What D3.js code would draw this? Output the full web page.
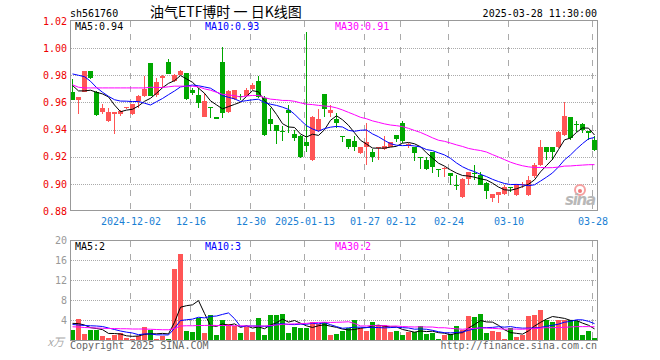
<!DOCTYPE html>
<html>
<head>
<meta charset="utf-8">
<script src="https://cdn.jsdelivr.net/npm/d3@7"></script>
<style>
  body { margin: 0; background: #fff; }
  text { font-family: "DejaVu Sans Mono", monospace; font-size: 10px; }
</style>
</head>
<body>
<div id="chart"></div>
<script>
// daily K-line of sh561760, 2024-11-18 .. 2025-03-28
var dates = [
  "2024-11-18","2024-11-19","2024-11-20","2024-11-21","2024-11-22","2024-11-25","2024-11-26","2024-11-27","2024-11-28","2024-11-29",
  "2024-12-02","2024-12-03","2024-12-04","2024-12-05","2024-12-06","2024-12-09","2024-12-10","2024-12-11","2024-12-12","2024-12-13",
  "2024-12-16","2024-12-17","2024-12-18","2024-12-19","2024-12-20","2024-12-23","2024-12-24","2024-12-25","2024-12-26","2024-12-27",
  "2024-12-30","2024-12-31","2025-01-02","2025-01-03","2025-01-06","2025-01-07","2025-01-08","2025-01-09","2025-01-10",
  "2025-01-13","2025-01-14","2025-01-15","2025-01-16","2025-01-17","2025-01-20","2025-01-21","2025-01-22","2025-01-23","2025-01-24",
  "2025-01-27","2025-02-05","2025-02-06","2025-02-07","2025-02-10","2025-02-11",
  "2025-02-12","2025-02-13","2025-02-14","2025-02-17","2025-02-18","2025-02-19","2025-02-20","2025-02-21",
  "2025-02-24","2025-02-25","2025-02-26","2025-02-27","2025-02-28","2025-03-03","2025-03-04","2025-03-05","2025-03-06","2025-03-07",
  "2025-03-10","2025-03-11","2025-03-12","2025-03-13","2025-03-14","2025-03-17","2025-03-18","2025-03-19","2025-03-20","2025-03-21",
  "2025-03-24","2025-03-25","2025-03-26","2025-03-27","2025-03-28"
];

var open = [
  0.9676,0.9620,0.9678,0.9829,0.9678,0.9532,0.9463,0.9512,0.9512,0.9560,
  0.9512,0.9610,0.9646,0.9888,0.9654,0.9780,0.9898,0.9761,0.9805,0.9815,
  0.9688,0.9654,0.9493,0.9563,0.9493,0.9895,0.9530,0.9627,0.9650,0.9651,
  0.9700,0.9761,0.9632,0.9476,0.9432,0.9392,0.9544,0.9366,0.9354,
  0.9312,0.9173,0.9390,0.9659,0.9520,0.9476,0.9350,0.9329,0.9315,0.9224,
  0.9273,0.9237,0.9265,0.9260,0.9273,0.9359,
  0.9445,0.9288,0.9268,0.9198,0.9173,0.9232,0.9106,0.9115,
  0.9080,0.8994,0.8902,0.9039,0.9081,0.9068,0.9007,0.8898,0.8915,0.8922,
  0.8978,0.8915,0.8998,0.8915,0.9056,0.9141,0.9271,0.9271,0.9271,0.9361,
  0.9490,0.9442,0.9439,0.9390,0.9324
];
var high = [
  0.9773,0.9639,0.9829,0.9829,0.9683,0.9590,0.9559,0.9529,0.9541,0.9570,
  0.9590,0.9658,0.9793,0.9888,0.9780,0.9805,0.9922,0.9810,0.9836,0.9817,
  0.9707,0.9707,0.9670,0.9565,0.9495,1.0012,0.9690,0.9693,0.9660,0.9705,
  0.9744,0.9798,0.9646,0.9561,0.9435,0.9427,0.9578,0.9400,0.9360,
  1.0122,0.9500,0.9549,0.9662,0.9578,0.9524,0.9354,0.9332,0.9354,0.9270,
  0.9446,0.9256,0.9268,0.9354,0.9305,0.9361,
  0.9460,0.9300,0.9270,0.9200,0.9198,0.9234,0.9108,0.9122,
  0.9082,0.9068,0.9040,0.9088,0.9141,0.9085,0.9010,0.8922,0.8941,0.8988,
  0.8980,0.9002,0.9010,0.9056,0.9154,0.9324,0.9273,0.9273,0.9393,0.9605,
  0.9492,0.9463,0.9446,0.9392,0.9349
];
var low = [
  0.9618,0.9512,0.9675,0.9770,0.9502,0.9512,0.9459,0.9371,0.9502,0.9555,
  0.9507,0.9560,0.9640,0.9646,0.9640,0.9707,0.9810,0.9751,0.9800,0.9620,
  0.9658,0.9560,0.9490,0.9488,0.9478,0.9488,0.9520,0.9620,0.9620,0.9648,
  0.9695,0.9630,0.9355,0.9390,0.9293,0.9317,0.9378,0.9317,0.9188,
  0.9232,0.9168,0.9380,0.9495,0.9495,0.9415,0.9305,0.9256,0.9244,0.9220,
  0.9141,0.9158,0.9173,0.9250,0.9268,0.9305,
  0.9300,0.9265,0.9168,0.9110,0.9105,0.9080,0.9050,0.9050,
  0.8995,0.8954,0.8898,0.8988,0.9032,0.8988,0.8885,0.8866,0.8861,0.8918,
  0.8939,0.8910,0.8970,0.8910,0.9044,0.9134,0.9178,0.9178,0.9266,0.9350,
  0.9324,0.9385,0.9378,0.9324,0.9239
];
var close = [
  0.9620,0.9639,0.9829,0.9780,0.9507,0.9559,0.9529,0.9529,0.9534,0.9566,
  0.9590,0.9651,0.9700,0.9646,0.9749,0.9795,0.9812,0.9800,0.9834,0.9627,
  0.9668,0.9598,0.9610,0.9556,0.9478,0.9520,0.9683,0.9690,0.9638,0.9690,
  0.9732,0.9641,0.9359,0.9439,0.9388,0.9390,0.9520,0.9341,0.9195,
  0.9280,0.9493,0.9476,0.9549,0.9544,0.9446,0.9346,0.9273,0.9273,0.9268,
  0.9305,0.9200,0.9268,0.9276,0.9305,0.9334,
  0.9315,0.9295,0.9228,0.9195,0.9110,0.9124,0.9105,0.9120,
  0.9056,0.8990,0.9037,0.9085,0.9078,0.8995,0.8946,0.8922,0.8941,0.8978,
  0.8976,0.9002,0.9002,0.9027,0.9141,0.9271,0.9234,0.9232,0.9385,0.9500,
  0.9337,0.9440,0.9398,0.9378,0.9246
];

// volume, in 10k
var volume = [
  2.0,4.2,1.2,2.0,2.1,0.87,0.4,1.1,1.5,0.33,
  0.3,0.8,2.7,2.1,0.27,0.73,0.27,14.3,17.2,1.8,
  1.6,4.5,1.47,5.0,1.07,4.0,3.2,2.9,1.47,2.67,
  1.67,4.4,1.07,5.07,5.07,5.2,1.47,2.67,2.4,
  2.4,3.6,3.2,3.6,1.0,1.27,1.87,2.33,4.0,2.33,
  1.87,3.6,3.0,3.0,1.6,1.87,
  1.07,1.67,1.6,2.8,1.27,1.47,0.2,1.07,
  1.2,2.8,2.07,4.8,4.6,5.2,1.4,1.87,1.6,0.2,
  2.33,0.67,1.07,4.87,5.0,6.0,4.0,3.6,4.0,4.0,
  4.0,3.87,1.0,1.87,0.4
];

// moving averages before enough days are on screen
var ma5Head = [0.9725,0.9685,0.9685,0.9690];
var ma10Head = [0.9810,0.9800,0.9790,0.9756,0.9710,0.9675,0.9645,0.9620,0.9610];
var ma30Head = [0.9730,0.9712,0.9707,0.9707,0.9707,0.9707,0.9707,0.9707,0.9707,0.9707,
                0.9707,0.9707,0.9707,0.9712,0.9710,0.9710,0.9715,0.9720,0.9720,0.9720,
                0.9720,0.9715,0.9700,0.9690,0.9675,0.9660,0.9655,0.9650,0.9640];
var volMa5Head = [3.33,3.27,3.0,2.47];
var volMa10Head = [3.1,3.0,2.9,2.85,2.8,2.7,2.4,2.1,1.8];
var volMa30Head = [2.65,2.6,2.5,2.45,2.4,2.35,2.3,2.3,2.25,2.25,
                   2.2,2.2,2.2,2.15,2.1,2.05,2.05,2.3,2.8,2.85,
                   2.85,2.9,2.9,2.95,2.9,2.9,2.9,2.85,2.85];

var priceTicks = [0.88,0.90,0.92,0.94,0.96,0.98,1.00,1.02];
var volTicks = [4,8,12,16,20];
var dateTicks = ["2024-12-02","2024-12-16","2024-12-30","2025-01-13","2025-01-27","2025-02-12","2025-02-24","2025-03-10","2025-03-28"];
var dateTickLabels = ["2024-12-02","12-16","12-30","2025-01-13","01-27","02-12","02-24","03-10","03-28"];

var upColor = "#ff5555", downColor = "#00a800";

function movingAvg(values, n, head) {
  return values.map(function(v, i) {
    if (i < n - 1) return head[i];
    return d3.mean(values.slice(i - n + 1, i + 1));
  });
}

var ma5 = movingAvg(close, 5, ma5Head),
    ma10 = movingAvg(close, 10, ma10Head),
    ma30 = movingAvg(close, 30, ma30Head);
var vma5 = movingAvg(volume, 5, volMa5Head),
    vma10 = movingAvg(volume, 10, volMa10Head),
    vma30 = movingAvg(volume, 30, volMa30Head);

var left = 70, right = 597;
var svg = d3.select("#chart")
  .append("svg")
    .attr("width", 660)
    .attr("height", 360);

var x = d3.scaleLinear()
  .domain([0, dates.length])
  .range([left, left + dates.length * 6]);
var y = d3.scaleLinear()
  .domain([0.88, 1.02])
  .range([211, 21]);
var yv = d3.scaleLinear()
  .domain([0, 20])
  .range([340, 240]);

var tickIdx = dateTicks.map(function(d) { return dates.indexOf(d); });

// horizontal dotted grid
svg.append("g").selectAll("line")
  .data(priceTicks.slice(1, -1))
  .enter().append("line")
    .attr("x1", left + 1).attr("x2", right + 1)
    .attr("y1", function(d) { return Math.round(y(d)) + 0.5; })
    .attr("y2", function(d) { return Math.round(y(d)) + 0.5; })
    .attr("stroke", "#aaa")
    .attr("stroke-dasharray", "1,1");
svg.append("g").selectAll("line")
  .data(volTicks.slice(0, -1))
  .enter().append("line")
    .attr("x1", left + 1).attr("x2", right + 1)
    .attr("y1", function(d) { return Math.round(yv(d)) + 0.5; })
    .attr("y2", function(d) { return Math.round(yv(d)) + 0.5; })
    .attr("stroke", "#aaa")
    .attr("stroke-dasharray", "1,1");

// vertical dashed grid, both panels
[[21, 211], [241, 340]].forEach(function(r) {
  svg.append("g").selectAll("line")
    .data(tickIdx)
    .enter().append("line")
      .attr("x1", function(i) { return x(i) + 0.5; })
      .attr("x2", function(i) { return x(i) + 0.5; })
      .attr("y1", r[0]).attr("y2", r[1])
      .attr("stroke", "#aaa")
      .attr("stroke-dasharray", "6,7");
});

// sina watermark
var logo = svg.append("g");
logo.append("circle").attr("cx", 580).attr("cy", 190).attr("r", 5)
  .attr("fill", "none").attr("stroke", "#f5a0a0").attr("stroke-width", 2);
logo.append("circle").attr("cx", 580).attr("cy", 191).attr("r", 2).attr("fill", "#f07878");
logo.append("text").attr("x", 565).attr("y", 205)
  .attr("textLength", 31)
  .style("font-family", "DejaVu Sans").style("font-size", "15px")
  .style("font-weight", "bold").style("font-style", "italic")
  .attr("fill", "#b8b8b8").text("sina");

// candles
var idx = d3.range(dates.length);
var cg = svg.append("g").selectAll("g").data(idx).enter().append("g")
  .attr("fill", function(i) { return close[i] >= open[i] ? upColor : downColor; })
  .attr("stroke", function(i) { return close[i] >= open[i] ? upColor : downColor; });
cg.append("line")
  .attr("x1", function(i) { return x(i) + 2.5; })
  .attr("x2", function(i) { return x(i) + 2.5; })
  .attr("y1", function(i) { return Math.round(y(high[i])); })
  .attr("y2", function(i) { return Math.round(y(low[i])); });
cg.append("rect")
  .attr("stroke", "none")
  .attr("x", function(i) { return x(i); })
  .attr("width", 5)
  .attr("y", function(i) { return Math.round(y(Math.max(open[i], close[i]))); })
  .attr("height", function(i) {
    var t = Math.round(y(Math.max(open[i], close[i]))),
        b = Math.round(y(Math.min(open[i], close[i])));
    return Math.max(1, b - t);
  });

// volume bars
svg.append("g").selectAll("rect").data(idx).enter().append("rect")
  .attr("x", function(i) { return x(i); })
  .attr("width", 5)
  .attr("y", function(i) { return Math.round(yv(volume[i])); })
  .attr("height", function(i) { return 340 - Math.round(yv(volume[i])); })
  .attr("fill", function(i) { return close[i] >= open[i] ? upColor : downColor; });

// moving average lines
function drawLine(values, scale, color) {
  svg.append("path")
    .datum(values)
    .attr("fill", "none")
    .attr("stroke", color)
    .attr("stroke-width", 1)
    .attr("d", d3.line()
      .x(function(d, i) { return x(i) + 2.5; })
      .y(function(d) { return scale(d); }));
}
drawLine(ma5, y, "#000");
drawLine(ma10, y, "#0000ff");
drawLine(ma30, y, "#ff00ff");
drawLine(vma5, yv, "#000");
drawLine(vma10, yv, "#0000ff");
drawLine(vma30, yv, "#ff00ff");

// panel borders
svg.append("rect").attr("x", left + 0.5).attr("y", 20.5).attr("width", right - left).attr("height", 190)
  .attr("fill", "none").attr("stroke", "#999");
svg.append("rect").attr("x", left + 0.5).attr("y", 240.5).attr("width", right - left).attr("height", 100)
  .attr("fill", "none").attr("stroke", "#999");

// axes
var yAxis = svg.append("g")
  .attr("transform", "translate(" + left + ",0)")
  .call(d3.axisLeft(y).tickValues(priceTicks).tickSize(0).tickPadding(3).tickFormat(d3.format(".2f")));
yAxis.select(".domain").remove();
yAxis.selectAll("text").attr("fill", "#ee0000").style("font-size", "10px").style("font-family", "DejaVu Sans Mono");

var vAxis = svg.append("g")
  .attr("transform", "translate(" + left + ",0)")
  .call(d3.axisLeft(yv).tickValues(volTicks).tickSize(0).tickPadding(3));
vAxis.select(".domain").remove();
vAxis.selectAll("text").attr("fill", "#999").style("font-size", "10px").style("font-family", "DejaVu Sans Mono");

var xAxis = svg.append("g")
  .attr("transform", "translate(0.5,211)")
  .call(d3.axisBottom(x).tickValues(tickIdx).tickSize(0).tickPadding(6.5)
    .tickFormat(function(d, i) { return dateTickLabels[i]; }));
xAxis.select(".domain").remove();
xAxis.selectAll("text").attr("fill", "#1a7fd4").style("font-size", "10px").style("font-family", "DejaVu Sans Mono");

// header texts
var fmt2 = d3.format(".2f");
var last = dates.length - 1;
svg.append("text").attr("x", 70).attr("y", 16.5).text("sh561760");
svg.append("text").attr("x", 150).attr("y", 16.5)
  .style("font-family", "'Noto Sans CJK SC'").style("font-size", "14px")
  .text("油气ETF博时 一 日K线图");
svg.append("text").attr("x", 597).attr("y", 16.5).attr("text-anchor", "end").text("2025-03-28 11:30:00");

svg.append("text").attr("x", 75).attr("y", 29.5).attr("fill", "#000").text("MA5:" + fmt2(ma5[last]));
svg.append("text").attr("x", 205).attr("y", 29.5).attr("fill", "#0000ff").text("MA10:" + fmt2(ma10[last]));
svg.append("text").attr("x", 335).attr("y", 29.5).attr("fill", "#ff00ff").text("MA30:" + fmt2(ma30[last]));

svg.append("text").attr("x", 75).attr("y", 250).attr("fill", "#000").text("MA5:" + Math.floor(vma5[last]));
svg.append("text").attr("x", 205).attr("y", 250).attr("fill", "#0000ff").text("MA10:" + Math.floor(vma10[last]));
svg.append("text").attr("x", 335).attr("y", 250).attr("fill", "#ff00ff").text("MA30:" + Math.floor(vma30[last]));

svg.append("text").attr("x", 64).attr("y", 346).attr("text-anchor", "end")
  .style("font-family", "'Noto Sans CJK SC'").style("font-size", "11px").style("font-style", "italic")
  .attr("fill", "#aaa").text("x万");

svg.append("text").attr("x", 70).attr("y", 349).attr("fill", "#666").text("Copyright 2025 SINA.COM");
svg.append("text").attr("x", 597).attr("y", 349).attr("text-anchor", "end").attr("fill", "#666").text("http://finance.sina.com.cn");
</script>
</body>
</html>
